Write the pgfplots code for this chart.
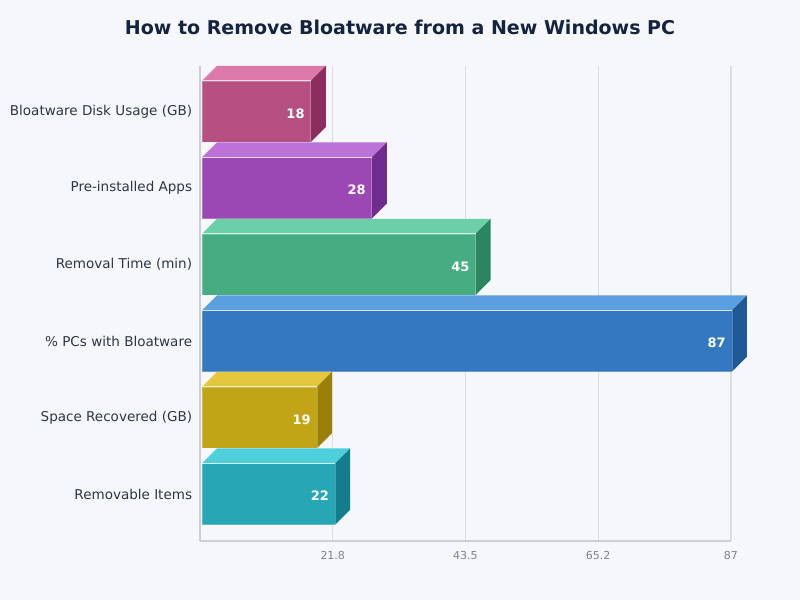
\documentclass[border=0pt]{standalone}
\usepackage{fontspec}
\setmainfont{DejaVu Sans}
\usepackage{pgfplots}
\pgfplotsset{compat=1.18}

\definecolor{pagebg}{HTML}{F5F7FB}
\definecolor{gridc}{HTML}{D9DDE4}
\definecolor{axisc}{HTML}{C9CED7}
\definecolor{titlec}{HTML}{14233F}
\definecolor{labelc}{HTML}{2D3648}
\definecolor{tickc}{HTML}{7C8492}

\definecolor{roseF}{HTML}{B55080}\definecolor{roseT}{HTML}{DD7AAB}\definecolor{roseS}{HTML}{8B2E5E}
\definecolor{purpF}{HTML}{9B48B5}\definecolor{purpT}{HTML}{BC72D8}\definecolor{purpS}{HTML}{702C8F}
\definecolor{greenF}{HTML}{46AD83}\definecolor{greenT}{HTML}{6BCFA7}\definecolor{greenS}{HTML}{2A8560}
\definecolor{blueF}{HTML}{3478C0}\definecolor{blueT}{HTML}{5B9FE0}\definecolor{blueS}{HTML}{1F5A97}
\definecolor{yellF}{HTML}{C2A517}\definecolor{yellT}{HTML}{E3C83E}\definecolor{yellS}{HTML}{9A7F08}
\definecolor{tealF}{HTML}{27A6B6}\definecolor{tealT}{HTML}{4ECFDB}\definecolor{tealS}{HTML}{147D8B}

% #1 row, #2 value, #3 colour prefix
% bars start 0.33 right of the axis, depth is 15px in both directions
\newcommand{\threedbar}[3]{
  \addplot[fill=#3T, draw=none] coordinates {({0.33},{#1+0.4}) ({#2+0.15},{#1+0.4}) ({#2+2.61},{#1+0.596}) ({2.79},{#1+0.596})} -- cycle;
  \addplot[fill=#3S, draw=none] coordinates {({#2+0.15},{#1-0.4}) ({#2+0.15},{#1+0.4}) ({#2+2.61},{#1+0.596}) ({#2+2.61},{#1-0.204})} -- cycle;
  \addplot[fill=#3F, draw=white, draw opacity=0.25, line width=0.5pt] coordinates {({0.33},{#1-0.4}) ({#2+0.15},{#1-0.4}) ({#2+0.15},{#1+0.4}) ({0.33},{#1+0.4})} -- cycle;
  \addplot[white, opacity=0.75, line width=0.7pt] coordinates {({0.33},{#1+0.4}) ({#2+0.15},{#1+0.4})};
  \node[anchor=east, text=white, font=\fontsize{9.75}{12}\selectfont\bfseries, inner sep=0pt]
    at (axis cs:{#2+0.33-1.15},{#1-0.025}) {#2};
}

\begin{document}
\begin{tikzpicture}
\fill[pagebg] (0,0) rectangle (600pt,450pt);
\node[text=titlec, font=\fontsize{14.26}{18}\selectfont\bfseries] at (300pt,429.6pt) {How to Remove Bloatware from a New Windows PC};
\begin{axis}[
    at={(150pt,44.25pt)}, anchor=south west,
    scale only axis,
    width=398.25pt, height=356.25pt,
    xmin=0, xmax=87,
    ymin=-0.614, ymax=5.595,
    clip=false,
    axis lines*=left,
    axis line style={axisc, line width=0.8pt, -},
    xtick={21.75,43.5,65.25,87},
    xticklabels={21.8,43.5,65.2,87},
    ytick={0,1,2,3,4,5},
    yticklabels={Removable Items, Space Recovered (GB), \% PCs with Bloatware, Removal Time (min), Pre-installed Apps, Bloatware Disk Usage (GB)},
    major tick length=0pt,
    xmajorgrids=true,
    grid style={gridc, line width=0.9pt},
    xticklabel style={text=tickc, font=\fontsize{8.25}{10}\selectfont, yshift=-4pt},
    yticklabel style={text=labelc, font=\fontsize{10.14}{12}\selectfont, xshift=-2.4pt},
]
\threedbar{5}{18}{rose}
\threedbar{4}{28}{purp}
\threedbar{3}{45}{green}
\threedbar{2}{87}{blue}
\threedbar{1}{19}{yell}
\threedbar{0}{22}{teal}
\end{axis}
\end{tikzpicture}
\end{document}
